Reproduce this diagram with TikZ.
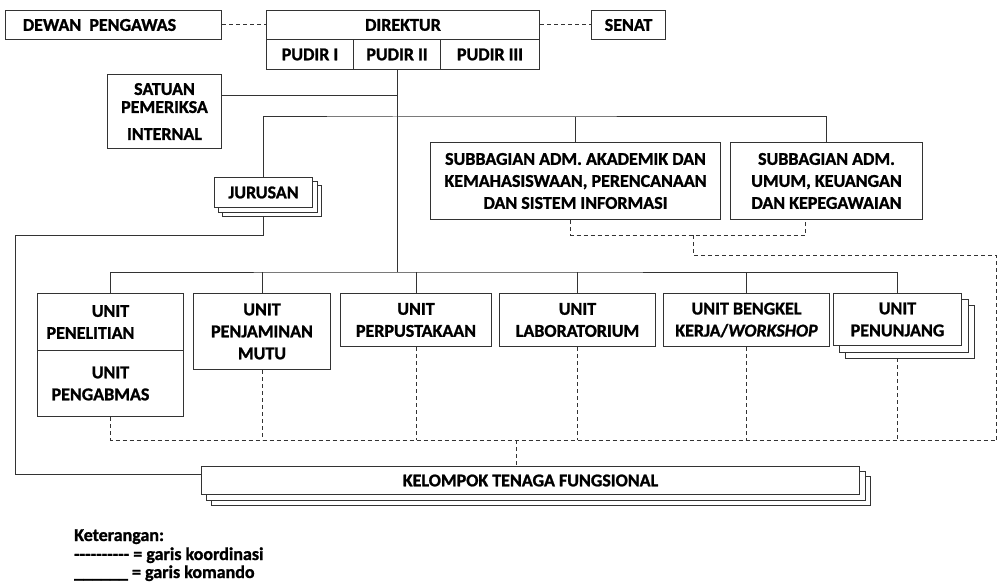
\documentclass[tikz,border=0pt]{standalone}
\usepackage{fontspec}
\setmainfont{Carlito}[BoldFeatures={FakeBold=1.2},BoldItalicFeatures={FakeBold=1.2}]
\pgfdeclarelayer{bg}
\pgfsetlayers{bg,main}
\newcommand\hy{-\kern0pt}
\begin{document}
\begin{tikzpicture}[x=1pt,y=-1pt,
  font=\fontsize{18}{22}\selectfont\bfseries, line width=1pt,
  box/.style={draw=black!80, fill=white, inner sep=0pt, anchor=north west, align=center},
  cmd/.style={draw=black!80, line width=1pt},
  crd/.style={draw=black!80, line width=1pt, dash pattern=on 4pt off 3pt},
  shd/.style={draw=black!80, fill=white, line width=1pt},
  leg/.style={anchor=base west, inner sep=0pt}]
\useasboundingbox (0,0) rectangle (1001,583);

% top row
\node[box, minimum width=216pt, minimum height=29pt] (dewan) at (5,10) {DEWAN\ \ PENGAWAS\hspace*{28pt}};
\node[box, minimum width=273pt, minimum height=29pt] (dir) at (266,10) {DIREKTUR};
\node[box, minimum width=87pt, minimum height=30pt] (pud1) at (266,39) {PUDIR I};
\node[box, minimum width=87pt, minimum height=30pt] (pud2) at (353,39) {PUDIR II};
\node[box, minimum width=99pt, minimum height=30pt] (pud3) at (440,39) {PUDIR III};
\node[box, minimum width=74pt, minimum height=29pt] (senat) at (591,10) {SENAT};
\node[box, minimum width=114pt, minimum height=74pt] (spi) at (107,74) {SATUAN\\[-4pt]PEMERIKSA\\[5pt]INTERNAL};

% subbagian
\node[box, minimum width=290pt, minimum height=77pt] (sub1) at (430,142) {SUBBAGIAN ADM. AKADEMIK DAN\\KEMAHASISWAAN, PERENCANAAN\\DAN SISTEM INFORMASI};
\node[box, minimum width=192pt, minimum height=77pt] (sub2) at (730,142) {SUBBAGIAN ADM.\\UMUM, KEUANGAN\\DAN KEPEGAWAIAN};

% jurusan
\node[box, minimum width=98pt, minimum height=30pt] (jur) at (214,177) {JURUSAN};

% units
\node[box, minimum width=146pt, minimum height=57pt] (u1a) at (37,293) {UNIT\\PENELITIAN\hspace*{40pt}};
\node[box, minimum width=146pt, minimum height=66pt] (u1b) at (37,350) {UNIT\\PENGABMAS\hspace*{20pt}};
\node[box, minimum width=137pt, minimum height=76pt] (u2) at (193,293) {UNIT\\PENJAMINAN\\MUTU};
\node[box, minimum width=151pt, minimum height=53pt] (u3) at (340,293) {UNIT\\PERPUSTAKAAN};
\node[box, minimum width=156pt, minimum height=53pt] (u4) at (499,293) {UNIT\\LABORATORIUM};
\node[box, minimum width=166pt, minimum height=53pt] (u5) at (663,293) {UNIT BENGKEL\\KERJA/\textit{WORKSHOP}};
\node[box, minimum width=128pt, minimum height=52pt] (u6) at (833,293) {UNIT\\PENUNJANG};

% kelompok
\node[box, minimum width=658pt, minimum height=28pt] (kel) at (201,466) {KELOMPOK TENAGA FUNGSIONAL};

% stacked copies
\begin{pgfonlayer}{bg}
  \draw[shd] ([shift={(8pt,-8pt)}]jur.north west) rectangle ([shift={(8pt,-8pt)}]jur.south east);
  \draw[shd] ([shift={(4pt,-4pt)}]jur.north west) rectangle ([shift={(4pt,-4pt)}]jur.south east);
  \draw[shd] ([shift={(12pt,-12pt)}]u6.north west) rectangle ([shift={(12pt,-12pt)}]u6.south east);
  \draw[shd] ([shift={(6pt,-6pt)}]u6.north west) rectangle ([shift={(6pt,-6pt)}]u6.south east);
  \draw[shd] ([shift={(10pt,-10pt)}]kel.north west) rectangle ([shift={(10pt,-10pt)}]kel.south east);
  \draw[shd] ([shift={(5pt,-5pt)}]kel.north west) rectangle ([shift={(5pt,-5pt)}]kel.south east);
\end{pgfonlayer}

% coordinates
\coordinate (busB) at (394,117);
\coordinate (busC) at (394,272);
\coordinate (lk) at (15,235);
\coordinate (sd) at (693,235);
\coordinate (sr) at (996,255);
\coordinate (dr) at (996,440);
\coordinate (dk) at (516,440);
\coordinate (spiw) at ([yshift=16pt]spi.east);
\coordinate (jurb) at ([yshift=-8pt]jur.south);
\coordinate (u6b) at ([yshift=-12pt]u6.south);
\coordinate (kelw) at ([yshift=6pt]kel.west);
\coordinate (sub2b) at ([xshift=-21pt]sub2.south);
\coordinate (sub1b) at ([xshift=-5pt]sub1.south);

% command lines
\draw[cmd] (pud2.south) -- (pud2.south |- busC);
\draw[cmd] (spiw) -- (spiw -| pud2.south);
\draw[cmd] (jur.north) |- (busB) -| (sub2.north);
\draw[cmd] (sub1.north) -- (sub1.north |- busB);
\draw[cmd] (u1a.north) |- (busC) -| (u6.north);
\foreach \u in {u2,u3,u4,u5} \draw[cmd] (\u.north) -- (\u.north |- busC);
\draw[cmd] (jurb) |- (lk) |- (kelw);

% coordination lines
\draw[crd] (dewan.east) -- (dir.west);
\draw[crd] (dir.east) -- (senat.west);
\draw[crd] (sub1b) |- (sd) -| (sub2b);
\draw[crd] (sd) |- (sr) -- (dr);
\draw[crd] (u1b.south) |- (dr);
\foreach \u in {u2,u3,u4,u5} \draw[crd] (\u.south) -- (\u.south |- dr);
\draw[crd] (u6b) -- (u6b |- dr);
\draw[crd] (dk) -- (dk |- kel.north);

% legend
\node[leg] (k0) at (74,541) {Keterangan:};
\node[leg] (k1) at (74,560) {\hy\hy\hy\hy\hy\hy\hy\hy\hy\hy\ = garis koordinasi};
\node[leg] (k2) at (74,578) {\_\_\_\_\_\_\ = garis komando};
\end{tikzpicture}
\end{document}
